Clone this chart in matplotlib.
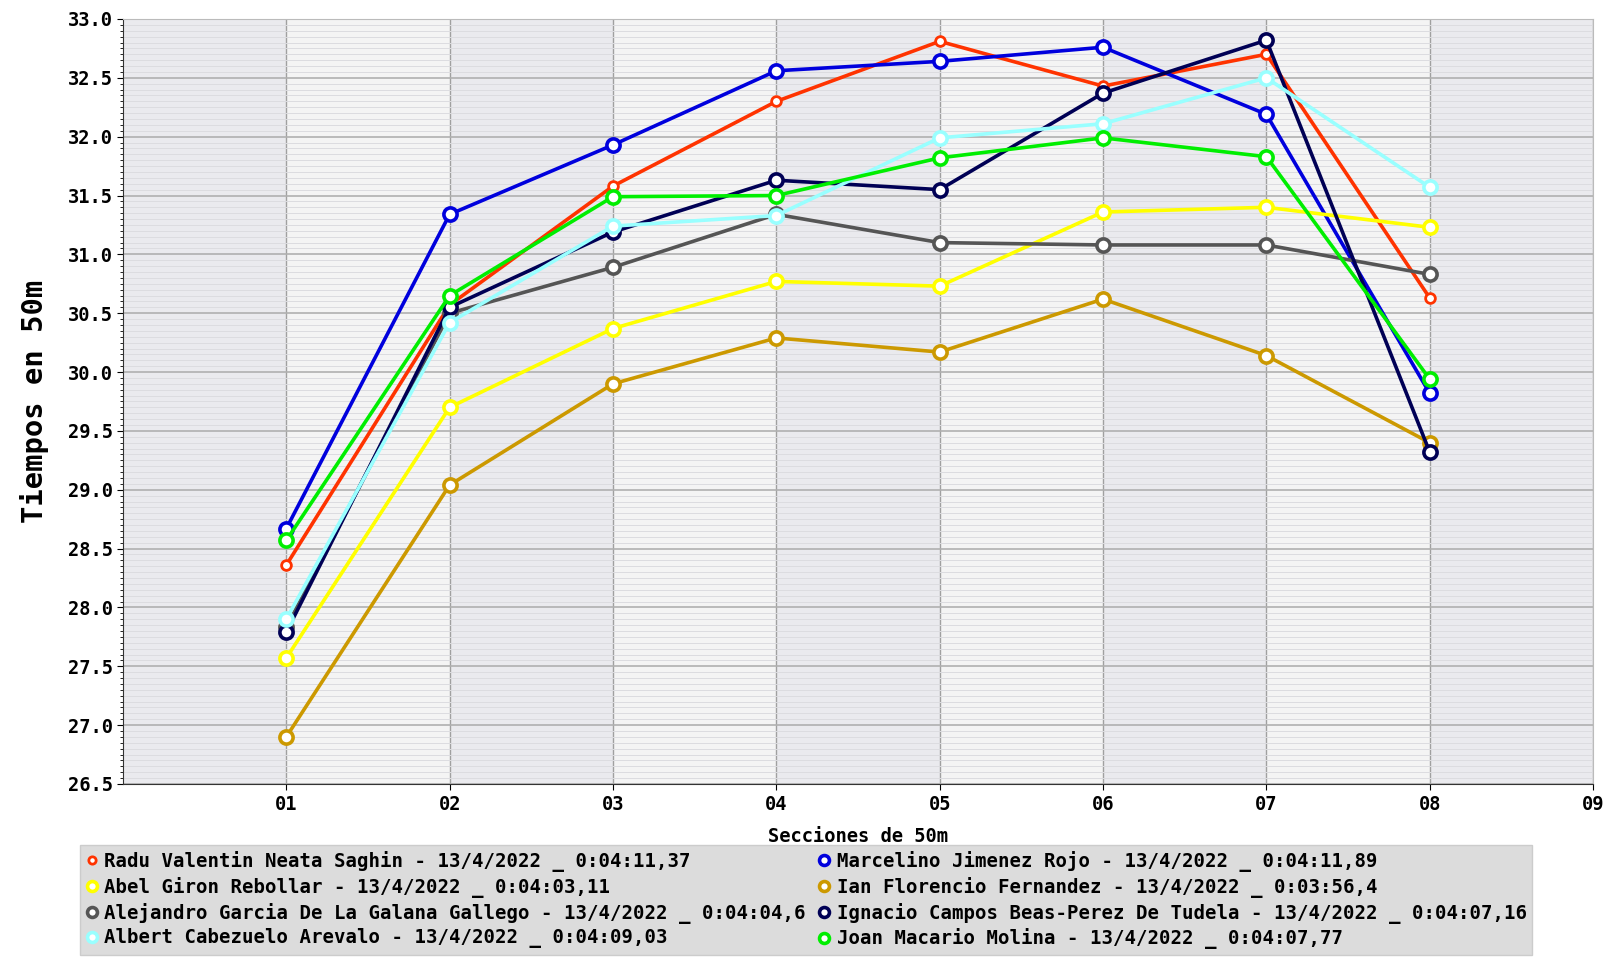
import matplotlib
matplotlib.use("Agg")
import matplotlib.pyplot as plt
from matplotlib.ticker import MultipleLocator
import numpy as np

sections = ["01", "02", "03", "04", "05", "06", "07", "08"]
x_ticklabels = ["01", "02", "03", "04", "05", "06", "07", "08", "09"]

names = [
    "Radu Valentin Neata Saghin - 13/4/2022 _ 0:04:11,37",
    "Marcelino Jimenez Rojo - 13/4/2022 _ 0:04:11,89",
    "Abel Giron Rebollar - 13/4/2022 _ 0:04:03,11",
    "Ian Florencio Fernandez - 13/4/2022 _ 0:03:56,4",
    "Alejandro Garcia De La Galana Gallego - 13/4/2022 _ 0:04:04,6",
    "Ignacio Campos Beas-Perez De Tudela - 13/4/2022 _ 0:04:07,16",
    "Albert Cabezuelo Arevalo - 13/4/2022 _ 0:04:09,03",
    "Joan Macario Molina - 13/4/2022 _ 0:04:07,77",
]

radu = [28.36, 30.57, 31.58, 32.30, 32.81, 32.43, 32.70, 30.63]
marcelino = [28.67, 31.34, 31.93, 32.56, 32.64, 32.76, 32.19, 29.82]
abel = [27.57, 29.70, 30.37, 30.77, 30.73, 31.36, 31.40, 31.23]
ian = [26.90, 29.04, 29.90, 30.29, 30.17, 30.62, 30.14, 29.40]
alejandro = [27.83, 30.50, 30.89, 31.34, 31.10, 31.08, 31.08, 30.83]
ignacio = [27.79, 30.55, 31.19, 31.63, 31.55, 32.37, 32.82, 29.32]
albert = [27.90, 30.42, 31.24, 31.33, 31.99, 32.11, 32.50, 31.57]
joan = [28.57, 30.65, 31.49, 31.50, 31.82, 31.99, 31.83, 29.94]

series = [radu, marcelino, abel, ian, alejandro, ignacio, albert, joan]
colors = ["#ff3300", "#0000dd", "#ffff00", "#cc9900", "#555555", "#000055", "#99ffff", "#00ee00"]

plt.rcParams['font.family'] = ['DejaVu Sans Mono']
plt.rcParams['font.weight'] = 'bold'

fig = plt.figure(figsize=(16.03, 9.59), dpi=100)
ax = fig.add_axes([0.0767, 0.1825, 0.9171, 0.7977])

# background column bands
for i in range(9):
    ax.axvspan(i, i + 1, color="#eaeaee" if i % 2 == 0 else "#f4f4f4", zorder=0, lw=0)

ax.set_xlim(0, 9)
ax.set_ylim(26.5, 33.0)
ax.yaxis.set_major_locator(MultipleLocator(0.5))
ax.yaxis.set_minor_locator(MultipleLocator(0.05))
ax.set_xticks(range(1, 10))
ax.set_xticklabels(x_ticklabels)
ax.grid(which="minor", axis="y", color="#dcdce0", lw=0.7, zorder=0.5)
ax.grid(which="major", axis="y", color="#b0b0b0", lw=1.2, zorder=0.6)
ax.grid(which="major", axis="x", color="#a0a0a0", lw=1.0, zorder=0.6)

xs = np.arange(1, len(sections) + 1)
handles = []
for i, (vals, c) in enumerate(zip(series, colors)):
    small = (i == 0)
    h, = ax.plot(xs, vals, color=c, lw=2.6, marker="o",
                 markersize=7 if small else 9.5,
                 markeredgewidth=2.0 if small else 2.6,
                 markerfacecolor="white", markeredgecolor=c,
                 zorder=3 + i * 0.1, label=names[i])
    handles.append(h)

for s in ["top", "right"]:
    ax.spines[s].set_color("#bbbbbb")
for s in ["left", "bottom"]:
    ax.spines[s].set_color("#333333")
ax.tick_params(axis="both", which="major", labelsize=13.5, length=4)
ax.tick_params(axis="y", which="minor", length=2.5)
ax.tick_params(axis="x", pad=4)
for lab in ax.get_xticklabels() + ax.get_yticklabels():
    lab.set_fontweight("bold")

ax.set_ylabel("Tiempos en 50m", fontsize=20.8, fontweight="bold", labelpad=13)
ax.set_xlabel("Secciones de 50m", fontsize=13.5, fontweight="bold", labelpad=9)

order = [0, 2, 4, 6, 1, 3, 5, 7]
leg = fig.legend([handles[k] for k in order], [names[k] for k in order],
                 ncol=2, loc="lower left", bbox_to_anchor=(0.05, 0.004),
                 borderaxespad=0.0,
                 fontsize=13.65, frameon=True, fancybox=False, shadow=False,
                 facecolor="#dcdcdc", edgecolor="#cccccc", framealpha=1,
                 handlelength=0.6, handletextpad=0.35, columnspacing=0.7,
                 labelspacing=0.26, borderpad=0.3, markerscale=0.75)
for t in leg.get_texts():
    t.set_fontweight("bold")
for lh in leg.legend_handles:
    lh.set_linestyle("none")

fig.savefig("out.png", dpi=100)
